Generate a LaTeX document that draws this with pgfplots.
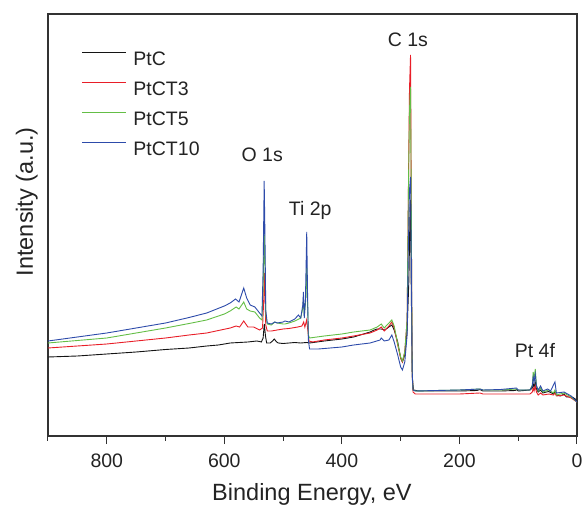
\documentclass[border=0pt]{standalone}
\usepackage{fontspec}
\setmainfont{Liberation Sans}
\usepackage{pgfplots}
\pgfplotsset{compat=1.18}
\definecolor{cblack}{RGB}{20,20,20}
\definecolor{cred}{RGB}{232,30,40}
\definecolor{cgreen}{RGB}{100,190,70}
\definecolor{cblue}{RGB}{45,75,170}
\definecolor{ctext}{RGB}{35,35,35}
\definecolor{caxis}{RGB}{50,50,50}
\newcommand{\tfont}{\fontsize{19.5bp}{22bp}\selectfont}
\newcommand{\lfont}{\fontsize{23.5bp}{26bp}\selectfont}
\begin{document}
\begin{tikzpicture}
\begin{axis}[
  at={(0,0)}, anchor=south west,
  width=529bp, height=422bp, scale only axis,
  x dir=reverse, xmin=0, xmax=900, ymin=0, ymax=422,
  axis line style={caxis, line width=1.2bp},
  xtick={0,200,400,600,800},
  minor xtick={100,300,500,700,900},
  ytick=\empty,
  minor ytick={32.46,64.92,97.38,129.84,162.3,194.76,227.22,259.68,292.14,324.6,357.06,389.52},
  xtick pos=bottom, ytick pos=left,
  xtick align=outside, ytick align=inside,
  major tick length=8bp, minor tick length=4.5bp,
  every tick/.style={caxis, line width=1bp},
  /pgf/number format/assume math mode=true,
  tick label style={font=\tfont, text=ctext},
  xticklabel style={anchor=base, yshift=-23bp},
  xlabel={Binding Energy, eV},
  ylabel={Intensity (a.u.)},
  every axis x label/.style={at={(axis description cs:0.499,0)}, anchor=base, yshift=-64bp, font=\lfont, text=ctext},
  every axis y label/.style={at={(axis description cs:-0.02836,0.555)}, rotate=90, anchor=base, font=\lfont, text=ctext},
  legend style={at={(axis description cs:0.0637,0.924)}, anchor=north west, draw=none, fill=none, font=\tfont, text=ctext, row sep=7bp, column sep=0bp, inner sep=0pt, nodes={inner sep=0pt, text height=14bp, text depth=4bp}},
  legend cell align=left,
  legend image code/.code={\path[draw=none, fill=none] (0bp,-4bp) rectangle (51bp,14bp); \draw[#1, line width=1.2bp] (0bp,7.5bp) -- (44bp,7.5bp);},
  every axis plot/.append style={line width=0.9bp},
]
% PtC
\addplot[cblack] coordinates {
(900,79) (850,80) (800,82) (750,84) (700,86.5) (660,88) (630,90) (610,91) (590,93) (575,93.5) (560,94) (545,95) (540,94.5) (537,94) (534,98) (532,112) (530,100) (528,93) (522,93) (518,95) (515,97) (511,94) (508,93) (500,92.5) (490,93) (480,93.5) (470,93) (460,93.5) (455,93) (430,95) (400,97) (380,99) (352,104) (345,106) (340,107) (333,107) (327,106) (320,109) (315,111) (311,106) (305,94) (300,78) (297,74) (293,81) (289,106) (286,156) (284,226) (283.2,236) (282,146) (280,56) (278,46) (270,45) (240,45) (200,45) (170,45.5) (165,46.5) (160,45) (130,45) (105,45.5) (103,46.5) (100,45) (80,46) (76,48) (74.5,52) (73,49) (71,54) (69,47) (66,44) (62,46) (58,43) (52,44) (48,44.5) (40,42) (37.5,44) (35,41) (28,40) (22,42) (18,39) (8,39) (3,37) (0,35)
};
\addlegendentry{PtC}
% PtCT3
\addplot[cred] coordinates {
(900,88) (850,90) (800,92) (750,95) (700,98) (660,101) (630,103) (610,105.5) (590,108) (580,110) (574,109) (567,115) (560,109) (550,109) (540,106) (535,108) (533,136) (532,163) (531,146) (529.5,111) (527,105) (520,105) (510,106) (500,107) (490,107.5) (475,109) (468,110) (465,114) (463,109) (460,116) (458,106) (456,95) (450,94) (430,96) (400,98) (380,100) (352,103) (340,106) (333,109) (328,105) (320,110) (315,114) (311,108) (305,91) (300,78) (297,74) (293,84) (289,116) (287,236) (285,346) (283.2,381) (282,236) (280.5,66) (279,44) (275,42) (240,42) (200,42) (165,43) (160,42) (130,42) (100,42) (80,42) (76,44) (74.5,48) (73,45) (71,50) (69,44) (66,41) (62,43) (58,41) (48,42) (40,41) (37.5,43) (35,40) (22,41) (10,38) (0,34)
};
\addlegendentry{PtCT3}
% PtCT5
\addplot[cgreen] coordinates {
(900,93) (850,95.5) (800,98) (750,103) (700,108) (660,112.5) (630,116) (600,122) (590,125) (580,129) (575,127) (567,134) (562,127) (556,125) (548,124) (540,118) (536,116) (534,146) (532.2,206) (531,176) (529.5,121) (527,112) (520,111) (514,114) (510,113) (500,112) (497,112) (490,113) (480,115) (470,118) (466.5,128) (465.4,138) (464,120) (461.5,136) (459.8,171) (458.5,136) (457,101) (455,98) (430,100) (400,102) (380,104) (352,106) (340,109) (333,112) (328,108) (320,113) (315,116) (311,110) (305,92) (300,79) (297,75) (293,84) (289,116) (287,236) (285,326) (283.2,349) (282,236) (280.5,66) (279,46) (275,45) (240,45.5) (200,46) (165,47) (160,46) (130,46) (103,47) (100,46) (80,46) (76,51) (74.5,64) (73,57) (71,67) (69,51) (66,45) (62,48) (58,44) (48,46) (40,43) (37.5,46) (35,41) (22,43) (10,39) (0,34)
};
\addlegendentry{PtCT5}
% PtCT10
\addplot[cblue] coordinates {
(900,95) (850,99) (800,103) (750,108) (700,113) (660,118.5) (630,123) (600,130) (590,133) (581,137) (575,134) (567,148) (562,138) (556,131) (548,129) (540,123) (536,120) (534,166) (532.2,255) (531,206) (529.5,126) (527,113) (520,112) (514,114) (510,113) (500,114) (497,115) (490,114) (480,117) (474,121) (470,118) (466.5,131) (465.4,144) (464,118) (462,136) (459.8,204) (458.5,146) (457,96) (455,87) (440,87) (420,88) (400,89) (380,91) (352,93) (335,96) (333,98) (328,95) (320,96) (315,101) (311,94) (305,81) (300,69) (297,66) (293,74) (289,101) (287,186) (285,246) (283.2,259) (282,186) (280.5,66) (279,46) (275,45) (240,45.5) (200,46) (165,47) (160,46) (130,46.5) (103,48) (100,46) (80,46) (76,50) (74.5,59) (73,54) (71,62) (69,50) (66,46) (62,50) (58,45) (50,47) (45,45) (37.5,54) (35,43) (22,44) (10,40) (0,34)
};
\addlegendentry{PtCT10}
\node[font=\tfont, text=ctext, anchor=base] at (axis cs:287.8,389) {C 1s};
\node[font=\tfont, text=ctext, anchor=base] at (axis cs:535.6,274) {O 1s};
\node[font=\tfont, text=ctext, anchor=base] at (axis cs:453.8,220) {Ti 2p};
\node[font=\tfont, text=ctext, anchor=base] at (axis cs:71.5,79) {Pt 4f};
\end{axis}
\pgfresetboundingbox
\useasboundingbox (-48bp,-70bp) rectangle (534bp,436bp);
\end{tikzpicture}
\end{document}
